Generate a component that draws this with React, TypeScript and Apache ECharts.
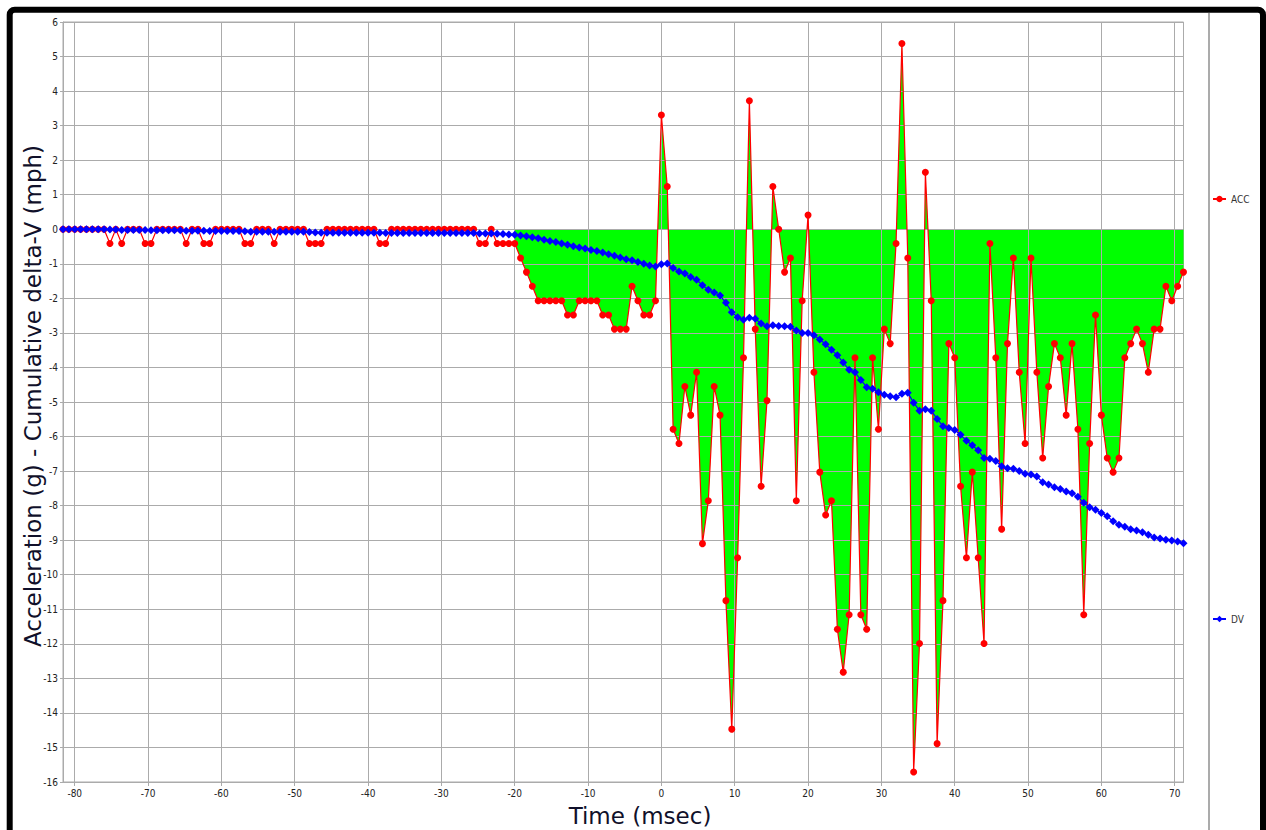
import React, { useEffect, useRef } from "react";
import * as echarts from "echarts";

// Recorder sampling: one sample every 0.8 ms, first sample at -81.6 ms
const SAMPLE_MS = 0.8;
const FIRST_SAMPLE_MS = -81.6;
// Green fill starts at this time
const FILL_START_MS = -20;

// Longitudinal acceleration (g), one value per sample
const ACC: number[] = [
  // -81.6 .. -20.0 ms
  0, 0, 0, 0, 0, 0, 0, 0,
  -0.41, 0, -0.41, 0, 0, 0, -0.41, -0.41,
  0, 0, 0, 0, 0, -0.41, 0, 0, -0.41, -0.41,
  0, 0, 0, 0, 0, -0.41, -0.41, 0, 0, 0, -0.41,
  0, 0, 0, 0, 0, -0.41, -0.41, -0.41,
  0, 0, 0, 0, 0, 0, 0, 0, 0, -0.41, -0.41,
  0, 0, 0, 0, 0, 0, 0, 0, 0, 0, 0, 0, 0, 0, 0,
  -0.41, -0.41, 0, -0.41, -0.41, -0.41, -0.41,
  // -19.2 .. -0.8 ms
  -0.83, -1.24, -1.65, -2.07, -2.07, -2.07, -2.07, -2.07, -2.48, -2.48,
  -2.07, -2.07, -2.07, -2.07, -2.48, -2.48, -2.89, -2.89, -2.89, -1.65,
  -2.07, -2.48, -2.48, -2.07,
  // 0 .. 71.2 ms
  3.31, 1.24, -5.79, -6.2, -4.55, -5.38, -4.14, -9.1, -7.86, -4.55,
  -5.38, -10.75, -14.47, -9.51, -3.72, 3.72, -2.89, -7.44, -4.96, 1.24,
  0, -1.24, -0.83, -7.86, -2.07, 0.41, -4.14, -7.03, -8.27, -7.86,
  -11.58, -12.82, -11.16, -3.72, -11.16, -11.58, -3.72, -5.79, -2.89, -3.31,
  -0.41, 5.38, -0.83, -15.71, -11.99, 1.65, -2.07, -14.89, -10.75, -3.31,
  -3.72, -7.44, -9.51, -7.03, -9.51, -11.99, -0.41, -3.72, -8.68, -3.31,
  -0.83, -4.14, -6.2, -0.83, -4.14, -6.62, -4.55, -3.31, -3.72, -5.38,
  -3.31, -5.79, -11.16, -6.2, -2.48, -5.38, -6.62, -7.03, -6.62, -3.72,
  -3.31, -2.89, -3.31, -4.14, -2.89, -2.89, -1.65, -2.07, -1.65, -1.24,
];

// Cumulative delta-V (mph), one value per sample
const DV: number[] = [
  // -81.6 .. -20.0 ms
  0, 0, 0, 0, 0, 0, 0, 0,
  -0.01, -0.01, -0.02, -0.02, -0.02, -0.02, -0.02, -0.03,
  -0.03, -0.03, -0.03, -0.03, -0.03, -0.04, -0.04, -0.04, -0.04, -0.05,
  -0.05, -0.05, -0.05, -0.05, -0.05, -0.06, -0.07, -0.07, -0.07, -0.07, -0.07,
  -0.07, -0.07, -0.07, -0.07, -0.07, -0.08, -0.09, -0.1,
  -0.1, -0.1, -0.1, -0.1, -0.1, -0.1, -0.1, -0.1, -0.1, -0.1, -0.11,
  -0.11, -0.11, -0.11, -0.11, -0.11, -0.11, -0.11, -0.11, -0.11, -0.11, -0.11, -0.11, -0.11, -0.11, -0.11,
  -0.12, -0.12, -0.12, -0.13, -0.14, -0.15, -0.16,
  // -19.2 .. -0.8 ms
  -0.18, -0.2, -0.23, -0.26, -0.3, -0.34, -0.37, -0.41, -0.45, -0.49,
  -0.53, -0.56, -0.6, -0.63, -0.67, -0.72, -0.77, -0.82, -0.87, -0.9,
  -0.95, -1.0, -1.05, -1.08,
  // 0 .. 71.2 ms
  -1.01, -0.99, -1.12, -1.22, -1.28, -1.38, -1.46, -1.62, -1.75, -1.83,
  -1.92, -2.13, -2.4, -2.55, -2.62, -2.56, -2.59, -2.73, -2.81, -2.78,
  -2.8, -2.81, -2.82, -2.93, -3.0, -3.0, -3.07, -3.19, -3.33, -3.49,
  -3.65, -3.86, -4.07, -4.14, -4.36, -4.57, -4.62, -4.72, -4.79, -4.83,
  -4.86, -4.76, -4.73, -5.02, -5.25, -5.21, -5.25, -5.49, -5.7, -5.75,
  -5.81, -5.95, -6.12, -6.25, -6.4, -6.62, -6.64, -6.71, -6.86, -6.92,
  -6.93, -7.0, -7.08, -7.1, -7.16, -7.32, -7.39, -7.47, -7.52, -7.59,
  -7.64, -7.74, -7.92, -8.05, -8.12, -8.21, -8.31, -8.45, -8.55, -8.61,
  -8.68, -8.72, -8.77, -8.84, -8.92, -8.95, -8.99, -9.01, -9.04, -9.09,
];

const X_TICKS = [-80, -70, -60, -50, -40, -30, -20, -10, 0, 10, 20, 30, 40, 50, 60, 70];
const Y_MIN = -16;
const Y_MAX = 6;

const TICK_FONT = "'Liberation Sans Narrow', 'DejaVu Sans Condensed', 'Arial Narrow', sans-serif";
const TITLE_FONT = "'DejaVu Sans', Verdana, sans-serif";
const GRID_COLOR = "#ababab";

export default function App() {
  const ref = useRef<HTMLDivElement>(null);

  useEffect(() => {
    if (!ref.current) return;
    const chart = echarts.init(ref.current, undefined, { renderer: "svg" });

    const times = ACC.map((_, i) => Math.round((FIRST_SAMPLE_MS + i * SAMPLE_MS) * 10) / 10);
    const accData = ACC.map((v, i) => [times[i], v]);
    const dvData = DV.map((v, i) => [times[i], v]);
    const fillData = accData.filter((p) => p[0] >= FILL_START_MS);

    chart.setOption({
      animation: false,
      backgroundColor: "#ffffff",
      grid: {
        left: 63,
        top: 22,
        right: 82.5,
        bottom: 48,
        show: true,
        borderColor: GRID_COLOR,
        borderWidth: 1,
        backgroundColor: "transparent",
      },
      legend: [
        {
          data: ["ACC"],
          left: 1212,
          top: 194,
          itemWidth: 13,
          itemHeight: 8,
          itemGap: 4,
          padding: 0,
          textStyle: { fontSize: 10, color: "#333", fontFamily: TICK_FONT },
        },
        {
          data: ["DV"],
          left: 1212,
          top: 614,
          itemWidth: 13,
          itemHeight: 8,
          itemGap: 4,
          padding: 0,
          textStyle: { fontSize: 10, color: "#333", fontFamily: TICK_FONT },
        },
      ],
      xAxis: {
        type: "value",
        min: FIRST_SAMPLE_MS,
        max: times[times.length - 1],
        z: 1,
        axisLine: { show: true, onZero: false, lineStyle: { color: GRID_COLOR, width: 1 } },
        axisTick: { show: true, length: 4, customValues: X_TICKS, lineStyle: { color: GRID_COLOR } },
        axisLabel: {
          customValues: X_TICKS,
          fontSize: 10,
          fontFamily: TICK_FONT,
          color: "#222",
          margin: 6,
        },
        splitLine: { show: true, lineStyle: { color: GRID_COLOR, width: 1 } },
      },
      yAxis: {
        type: "value",
        min: Y_MIN,
        max: Y_MAX,
        interval: 1,
        z: 1,
        axisLine: { show: true, onZero: false, lineStyle: { color: GRID_COLOR, width: 1 } },
        axisTick: { show: true, length: 3, lineStyle: { color: GRID_COLOR } },
        axisLabel: { fontSize: 10, fontFamily: TICK_FONT, color: "#222", margin: 5 },
        splitLine: { show: true, lineStyle: { color: GRID_COLOR, width: 1 } },
      },
      series: [
        {
          name: "fill",
          type: "line",
          data: fillData,
          z: 0,
          silent: true,
          showSymbol: false,
          symbol: "none",
          lineStyle: { width: 0, color: "#00ff00" },
          areaStyle: { color: "#00ff00", opacity: 1, origin: 0 },
        },
        {
          name: "ACC",
          type: "line",
          data: accData,
          z: 3,
          symbol: "circle",
          symbolSize: 7,
          showSymbol: true,
          showAllSymbol: true,
          itemStyle: { color: "#ff0000" },
          lineStyle: { color: "#ff0000", width: 1.2 },
        },
        {
          name: "DV",
          type: "line",
          data: dvData,
          z: 4,
          symbol: "diamond",
          symbolSize: 8,
          showSymbol: true,
          showAllSymbol: true,
          itemStyle: { color: "#0000ff" },
          lineStyle: { color: "#0000ff", width: 1.2 },
        },
      ],
      graphic: [
        {
          type: "rect",
          shape: { x: 9.7, y: 9.7, width: 1253.3, height: 900, r: 5 },
          style: { fill: "none", stroke: "#000000", lineWidth: 6 },
          silent: true,
        },
        {
          type: "line",
          shape: { x1: 1209, y1: 13, x2: 1209, y2: 830 },
          style: { stroke: GRID_COLOR, lineWidth: 2 },
          silent: true,
        },
        {
          type: "text",
          x: 33,
          y: 396,
          rotation: Math.PI / 2,
          style: {
            text: "Acceleration (g) - Cumulative delta-V (mph)",
            font: `23px ${TITLE_FONT}`,
            fill: "#10102a",
            align: "center",
            verticalAlign: "middle",
          },
          silent: true,
        },
        {
          type: "text",
          x: 640,
          y: 816,
          style: {
            text: "Time (msec)",
            font: `23px ${TITLE_FONT}`,
            fill: "#10102a",
            align: "center",
            verticalAlign: "middle",
          },
          silent: true,
        },
      ],
    });

    return () => chart.dispose();
  }, []);

  return (
    <div
      ref={ref}
      style={{ position: "fixed", left: 0, top: 0, width: 1266, height: 830, background: "#fff" }}
    />
  );
}
